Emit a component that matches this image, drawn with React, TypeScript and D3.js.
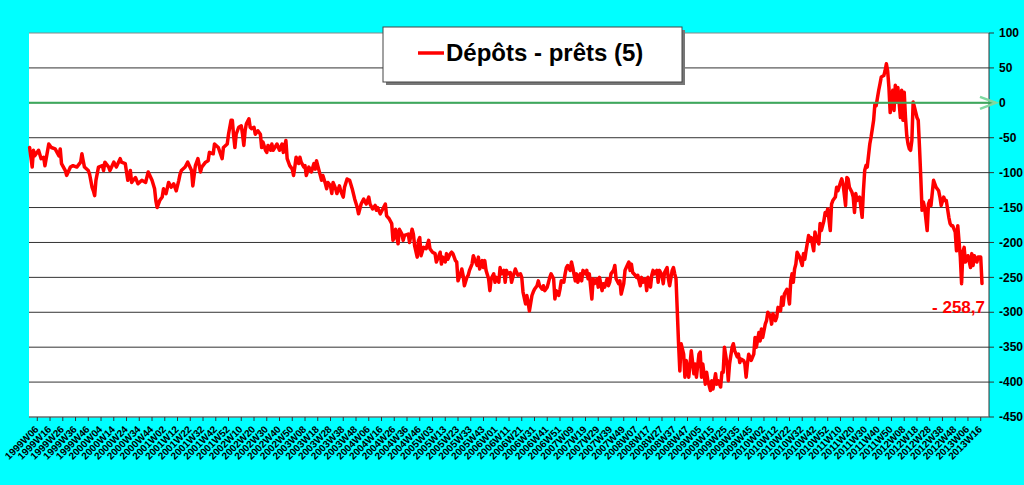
import { useMemo } from "react";
import * as d3 from "d3";

const WIDTH = 1024;
const HEIGHT = 485;
const PLOT = { left: 29, right: 989, top: 33, bottom: 417 };
const FONT = "'Liberation Sans', Arial, sans-serif";

// week index 0 = 1999W06
const WEEK_LABELS = [
  "1999W06", "1999W16", "1999W26", "1999W36", "1999W46",
  "2000W04", "2000W14", "2000W24", "2000W34", "2000W44",
  "2001W02", "2001W12", "2001W22", "2001W32", "2001W42", "2001W52",
  "2002W10", "2002W20", "2002W30", "2002W40", "2002W50",
  "2003W08", "2003W18", "2003W28", "2003W38", "2003W48",
  "2004W06", "2004W16", "2004W26", "2004W36", "2004W46",
  "2005W03", "2005W13", "2005W23", "2005W33", "2005W43",
  "2006W01", "2006W11", "2006W21", "2006W31", "2006W41", "2006W51",
  "2007W09", "2007W19", "2007W29", "2007W39", "2007W49",
  "2008W07", "2008W17", "2008W27", "2008W37", "2008W47",
  "2009W05", "2009W15", "2009W25", "2009W35", "2009W45",
  "2010W02", "2010W12", "2010W22", "2010W32", "2010W42", "2010W52",
  "2011W10", "2011W20", "2011W30", "2011W40", "2011W50",
  "2012W08", "2012W18", "2012W28", "2012W38", "2012W48",
  "2013W06", "2013W16",
];
const LABEL_STEP = 10;

const Y_TICKS = [100, 50, 0, -50, -100, -150, -200, -250, -300, -350, -400, -450];

// week index of each reading
const WEEKS = [
  -6, -4, -3, -2, 1, 3, 5, 6, 9, 11, 14, 17, 18, 19, 22, 23, 26, 28, 31, 34, 35, 36, 37, 40, 41, 43, 44, 45, 46, 48,
  51, 52, 53, 56, 57, 60, 62, 65, 66, 69, 70, 71, 73, 74, 77, 79, 82, 85, 87, 90, 92, 93, 94, 96, 98, 99, 101, 103, 105, 107,
  109, 111, 112, 113, 116, 118, 121, 122, 124, 126, 128, 129, 132, 134, 135, 138, 139, 142, 145, 146, 149, 150, 152, 153, 154,
  155, 156, 158, 160, 161, 162, 163, 164, 166, 167, 168, 170, 171, 173, 175, 176, 177, 179, 180, 181, 183, 184, 185, 188, 190,
  192, 193, 195, 196, 198, 200, 201, 202, 203, 205, 206, 207, 209, 210, 211, 213, 215, 217, 218, 219, 220, 222, 223, 224, 226,
  227, 228, 230, 231, 232, 234, 235, 237, 238, 240, 241, 243, 245, 247, 249, 251, 252, 254, 256, 258, 260, 261, 263, 265, 266,
  267, 269, 271, 273, 274, 276, 278, 279, 280, 281, 283, 284, 286, 287, 288, 291, 292, 294, 295, 296, 298, 299, 300, 301, 303,
  305, 307, 308, 310, 312, 313, 315,
  316, 317, 318, 320, 321, 322, 324, 325, 326, 328, 329, 330, 332, 333, 334, 335, 337, 338, 339, 341, 342, 343, 345, 346, 347,
  349, 350, 351, 352, 354, 355, 356, 358, 359, 360, 362, 363, 364, 366, 367, 368, 369, 371, 372, 373, 375, 376, 377, 379, 380,
  381, 383, 384, 385, 386, 388, 389, 390, 392, 393, 394, 396, 397, 398, 400, 401, 402, 403, 405, 406, 407, 409, 410, 411, 413,
  414, 415, 416, 418, 419, 420, 422, 423, 424, 426, 427, 428, 430, 431, 432, 433, 435, 436, 437, 439, 440, 441, 443, 444, 445,
  447, 448, 449, 450, 452, 453, 454, 456, 457, 458, 460, 461, 462, 464, 465, 466, 467, 469, 470, 471, 473, 474, 475, 477, 478,
  479, 481, 482, 483, 484, 486, 487, 488, 490, 491, 492, 494, 495, 496, 498, 499, 500, 501,
  503, 504, 505, 507, 508, 509, 511, 512, 513, 515, 516, 517, 519, 520, 521, 522, 524, 525, 526, 528, 529, 530, 532, 533, 534,
  536, 537, 538, 539, 541, 542, 543, 545, 546, 547, 549, 550, 551, 552, 554, 555, 556, 557, 558, 559, 560, 562, 563, 564, 566,
  567, 568, 569, 571, 572, 573, 575, 576, 577, 579, 580, 581, 583, 584, 585, 586, 588, 589, 590, 591, 592, 593, 594, 595, 596,
  598, 600, 601, 602, 603, 605, 606, 607, 609, 610, 611, 613, 614, 615, 617, 618, 619, 620,
  622, 623, 624, 626, 627, 628, 630, 631, 632, 634, 635, 636, 637, 639, 640, 641, 642, 643, 645, 647, 648, 649, 650, 651, 653,
  654, 655, 656, 657, 658, 660, 661, 662, 664, 665, 666, 667, 668, 669, 670, 671, 672, 673, 674, 675, 677, 678, 679, 680, 681,
  682, 683, 684, 685, 686, 687, 688, 690, 691, 692, 693, 694, 695, 696, 698, 699, 700, 701, 703, 704, 705, 707, 708, 709, 711,
  712, 713, 715, 716, 717, 718, 720, 721, 722, 724, 725, 726, 727, 728, 730, 732, 733, 734, 735, 737, 738, 740, 741,
];

// Dépôts - prêts (5)
const DEPOTS_PRETS = [
  -64, -92, -68, -76, -68, -80, -78, -90, -59, -64, -66, -76, -66, -87, -97, -104, -92, -90, -92, -85, -73, -83, -92, -97, -102, -121, -126, -133, -111, -92,
  -90, -97, -85, -92, -97, -85, -92, -80, -85, -87, -99, -111, -97, -114, -107, -116, -111, -114, -99, -111, -123, -140, -150, -140, -135, -123, -130, -114, -121, -116,
  -126, -111, -102, -97, -92, -85, -97, -119, -90, -80, -99, -92, -85, -83, -71, -73, -59, -64, -80, -64, -59, -45, -25, -25, -47,
  -64, -45, -35, -33, -45, -61, -40, -30, -23, -35, -37, -35, -45, -40, -45, -64, -56, -68, -71, -61, -68, -59, -68, -59, -68,
  -59, -71, -54, -80, -90, -95, -104, -92, -78, -87, -78, -85, -92, -90, -104, -92, -99, -87, -95, -83, -90, -104, -111, -104, -116,
  -123, -114, -119, -130, -114, -123, -130, -119, -126, -135, -121, -109, -111, -123, -138, -150, -159, -145, -138, -145, -135, -145, -152, -147, -154,
  -150, -159, -152, -145, -162, -166, -173, -197, -193, -181, -202, -181, -188, -197, -190, -188, -200, -181, -188, -205, -221, -197, -193, -219, -207,
  -209, -197, -209, -214, -216, -228, -219,
  -214, -231, -221, -228, -216, -224, -216, -214, -216, -226, -228, -255, -245, -238, -247, -262, -250, -247, -240, -231, -219, -224, -233, -221, -238,
  -226, -236, -226, -240, -252, -269, -252, -245, -257, -250, -257, -236, -245, -240, -257, -240, -245, -243, -257, -250, -238, -243, -247, -245, -250,
  -271, -288, -276, -286, -298, -276, -271, -267, -262, -255, -262, -267, -262, -269, -264, -257, -250, -245, -252, -281, -269, -276, -267, -255, -257,
  -245, -236, -233, -240, -228, -236, -255, -245, -257, -245, -255, -240, -245, -240, -252, -245, -281, -252, -259, -252, -264, -250, -269, -259, -264,
  -252, -262, -257, -245, -240, -233, -252, -259, -255, -274, -259, -240, -236, -228, -240, -231, -243, -247, -250, -247, -262, -250, -257, -252, -269,
  -250, -264, -247, -240, -245, -240, -257, -240, -247, -259, -243, -236, -252, -262, -240, -236, -245, -252,
  -345, -384, -345, -360, -393, -369, -393, -374, -355, -388, -374, -393, -360, -357, -393, -374, -403, -386, -398, -412, -398, -410, -388, -403, -398,
  -407, -386, -386, -350, -374, -398, -374, -350, -345, -355, -364, -360, -372, -367, -369, -374, -393, -374, -360, -364, -369, -360, -336, -350, -329,
  -341, -324, -336, -317, -312, -300, -305, -317, -302, -312, -307, -293, -298, -278, -290, -274, -267, -276, -288, -255, -245, -257, -238, -231, -214,
  -221, -233, -216, -224, -212, -190, -197, -193, -212, -185, -193, -202, -173, -183, -169, -157, -161, -152,
  -183, -145, -140, -135, -121, -126, -114, -109, -116, -147, -107, -109, -121, -128, -135, -157, -130, -140, -135, -164, -126, -97, -90, -92, -59,
  -49, -37, -25, -2, -4, 18, 27, 37, 39, 46, 56, 46, 22, -14, 8, 18, -11, 25, 1, 22, -21, 18, -25, 15, -21,
  -47, -59, -66, -68, -54, 1, -6, -21, -25, -64, -107, -154, -142, -150, -183, -145, -140, -147, -111, -116, -121, -126, -135, -147, -135,
  -140, -140, -164, -173, -176, -176, -185, -212, -176, -221, -259, -214, -207, -228, -219, -236, -216, -233, -219, -228, -221, -221, -258.7,
];

const LEGEND_LABEL = "Dépôts - prêts (5)";
const LAST_LABEL = "- 258,7";

export default function App() {
  const xScale = useMemo(
    () => d3.scaleLinear().domain([-6.5, 746.5]).range([PLOT.left, PLOT.right]),
    []
  );
  const yScale = useMemo(
    () => d3.scaleLinear().domain([-450, 100]).range([PLOT.bottom, PLOT.top]),
    []
  );

  const points = WEEKS.map((w, i) => [w, DEPOTS_PRETS[i]] as [number, number]);
  const linePath = d3
    .line<[number, number]>()
    .x((d) => xScale(d[0]))
    .y((d) => yScale(d[1]))(points);

  const y0 = yScale(0);

  return (
    <svg
      width={WIDTH}
      height={HEIGHT}
      style={{ position: "absolute", left: 0, top: 0 }}
      fontFamily={FONT}
    >
      <rect x={0} y={0} width={WIDTH} height={HEIGHT} fill="#00FFFF" />
      <rect
        x={PLOT.left}
        y={PLOT.top}
        width={PLOT.right - PLOT.left}
        height={PLOT.bottom - PLOT.top}
        fill="#ffffff"
      />

      {/* horizontal grid + right axis ticks */}
      {Y_TICKS.map((t) => (
        <g key={t}>
          <line
            x1={PLOT.left}
            x2={PLOT.right}
            y1={yScale(t)}
            y2={yScale(t)}
            stroke={t === 100 ? "#888" : "#333"}
            strokeWidth={1}
          />
          <line x1={PLOT.right} x2={PLOT.right + 5} y1={yScale(t)} y2={yScale(t)} stroke="#333" />
          <text
            x={PLOT.right + 10}
            y={yScale(t)}
            dy="0.35em"
            fontSize={12}
            fontWeight="bold"
            fill="#000"
          >
            {t}
          </text>
        </g>
      ))}

      {/* axes */}
      <line x1={PLOT.right} x2={PLOT.right} y1={PLOT.top} y2={PLOT.bottom} stroke="#333" />
      <line x1={PLOT.left} x2={PLOT.right} y1={PLOT.bottom} y2={PLOT.bottom} stroke="#888" />

      {WEEK_LABELS.map((lab, i) => {
        const x = xScale(i * LABEL_STEP);
        return (
          <g key={lab}>
            <line x1={x} x2={x} y1={PLOT.bottom} y2={PLOT.bottom + 4} stroke="#333" />
            <text
              transform={`translate(${x + 2},${PLOT.bottom + 13}) rotate(-45)`}
              textAnchor="end"
              fontSize={10}
              fontWeight="bold"
              fill="#000"
            >
              {lab}
            </text>
          </g>
        );
      })}

      {/* series */}
      <path
        d={linePath ?? ""}
        fill="none"
        stroke="#FF0000"
        strokeWidth={3.5}
        strokeLinejoin="round"
        strokeLinecap="round"
      />

      {/* zero line with arrow */}
      <line x1={PLOT.left} x2={PLOT.right + 7} y1={y0} y2={y0} stroke="#3DAA5C" strokeWidth={2} />
      <polyline
        points={`${PLOT.right - 9},${y0 - 6} ${PLOT.right + 7},${y0} ${PLOT.right - 9},${y0 + 6}`}
        fill="none"
        stroke="#7FD9A0"
        strokeWidth={2.5}
      />

      {/* last value */}
      <text
        x={PLOT.right - 4}
        y={yScale(-258.7) + 30}
        textAnchor="end"
        fontSize={17}
        fontWeight="bold"
        fill="#FF0000"
      >
        {LAST_LABEL}
      </text>

      {/* legend */}
      <rect x={386} y={30} width={299} height={55} fill="#777" />
      <rect x={383} y={27} width={299} height={55} fill="#fff" stroke="#444" strokeWidth={1} />
      <line x1={418} x2={444} y1={53} y2={53} stroke="#FF0000" strokeWidth={3.5} />
      <text x={446} y={61} fontSize={24} fontWeight="bold" fill="#000">
        {LEGEND_LABEL}
      </text>
    </svg>
  );
}
